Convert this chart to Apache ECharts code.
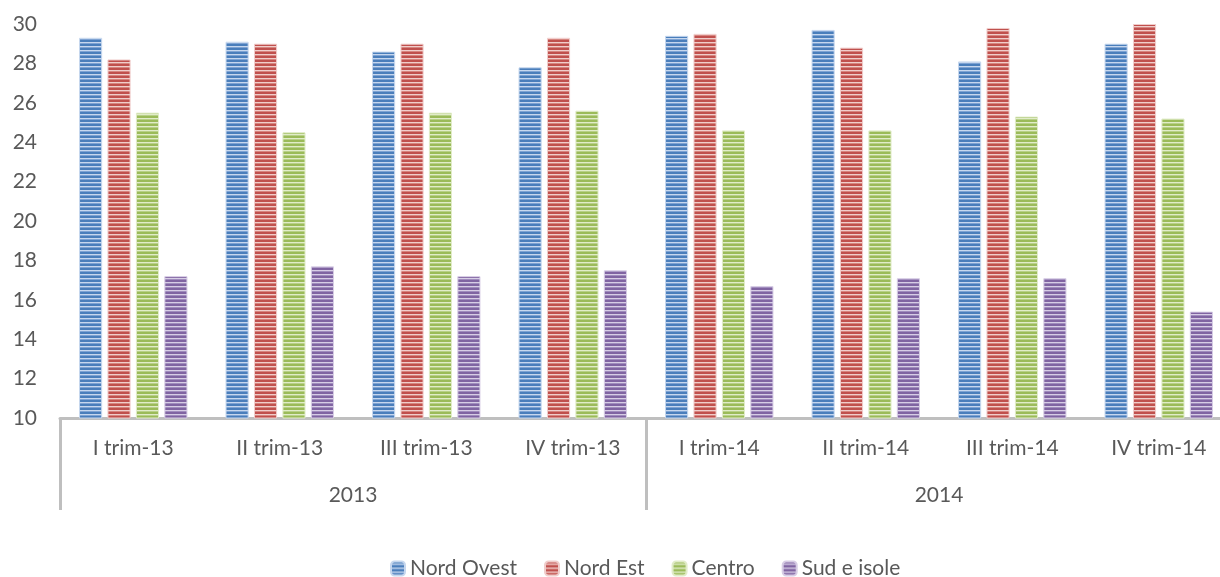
<!DOCTYPE html>
<html>
<head>
<meta charset="utf-8">
<script src="https://cdn.jsdelivr.net/npm/echarts@6/dist/echarts.min.js"></script>
<style>
  html, body { margin: 0; padding: 0; background: #ffffff; overflow: hidden; }
  /* the plot runs a little past the right edge of the page, so the canvas is wider than the view */
  #chart { width: 1240px; height: 577px; }
</style>
</head>
<body>
<div id="chart"></div>
<script>
// Quarterly values by macro-area, 2013-2014
const quarters = ['I trim-13', 'II trim-13', 'III trim-13', 'IV trim-13',
                  'I trim-14', 'II trim-14', 'III trim-14', 'IV trim-14'];
const years = ['2013', '2014'];
const seriesNames = ['Nord Ovest', 'Nord Est', 'Centro', 'Sud e isole'];

const nordOvest = [29.3, 29.1, 28.6, 27.8, 29.4, 29.7, 28.1, 29.0];
const nordEst   = [28.2, 29.0, 29.0, 29.3, 29.5, 28.8, 29.8, 30.0];
const centro    = [25.5, 24.5, 25.5, 25.6, 24.6, 24.6, 25.3, 25.2];
const sudIsole  = [17.2, 17.7, 17.2, 17.5, 16.7, 17.1, 17.1, 15.4];

const yTicks = { min: 10, max: 30, step: 2 };

// Horizontal-stripe fill: two rows of the base colour, then lighter rows
function stripes(dark, mid, light) {
  const c = document.createElement('canvas');
  c.width = 4; c.height = 4;
  const g = c.getContext('2d');
  g.fillStyle = dark;  g.fillRect(0, 0, 4, 2);
  g.fillStyle = light; g.fillRect(0, 2, 4, 1);
  g.fillStyle = mid;   g.fillRect(0, 3, 4, 1);
  return { image: c, repeat: 'repeat' };
}

const palette = [
  { fill: stripes('#4a7ebb', '#7ea3d3', '#c6d7ee'), edge: '#c6d7ee' },
  { fill: stripes('#c0504d', '#d6857f', '#f0cdcb'), edge: '#f0cdcb' },
  { fill: stripes('#9bbb59', '#b8d088', '#e1ecc9'), edge: '#e1ecc9' },
  { fill: stripes('#8064a2', '#a08cbd', '#d7cde5'), edge: '#d7cde5' }
];

const values = [nordOvest, nordEst, centro, sudIsole];
const textColor = '#595959';
const fontFamily = 'Lato, "Open Sans", sans-serif';
const lineColor = '#bfbfbf';

const chart = echarts.init(document.getElementById('chart'), null, { renderer: 'canvas' });

chart.setOption({
  animation: false,
  backgroundColor: '#ffffff',
  textStyle: { fontFamily: fontFamily, color: textColor },
  grid: { left: 60, top: 24, width: 1172, height: 394, containLabel: false },
  legend: {
    left: 385,
    top: 553,
    itemWidth: 14,
    itemHeight: 14,
    itemGap: 27,
    textStyle: { fontSize: 21, color: textColor, fontFamily: fontFamily },
    data: seriesNames
  },
  xAxis: [
    {
      type: 'category',
      data: quarters,
      position: 'bottom',
      axisLine: { show: true, lineStyle: { color: lineColor, width: 3 } },
      axisTick: { show: false },
      axisLabel: { fontSize: 21, color: textColor, margin: 20, fontFamily: fontFamily },
      splitLine: { show: false }
    },
    {
      type: 'category',
      data: years,
      position: 'bottom',
      offset: 0,
      axisLine: { show: false },
      axisTick: { show: true, length: 92, alignWithLabel: false, lineStyle: { color: lineColor, width: 3 } },
      axisLabel: { fontSize: 21, color: textColor, margin: 67, fontFamily: fontFamily },
      splitLine: { show: false }
    }
  ],
  yAxis: {
    type: 'value',
    min: yTicks.min,
    max: yTicks.max,
    interval: yTicks.step,
    axisLine: { show: false },
    axisTick: { show: false },
    splitLine: { show: false },
    axisLabel: { fontSize: 21, color: textColor, margin: 23, fontFamily: fontFamily }
  },
  series: seriesNames.map((name, i) => ({
    name: name,
    type: 'bar',
    xAxisIndex: 0,
    data: values[i],
    barGap: '23%',
    barCategoryGap: '26%',
    itemStyle: { color: palette[i].fill, borderColor: palette[i].edge, borderWidth: 1 }
  }))
});
</script>
</body>
</html>
